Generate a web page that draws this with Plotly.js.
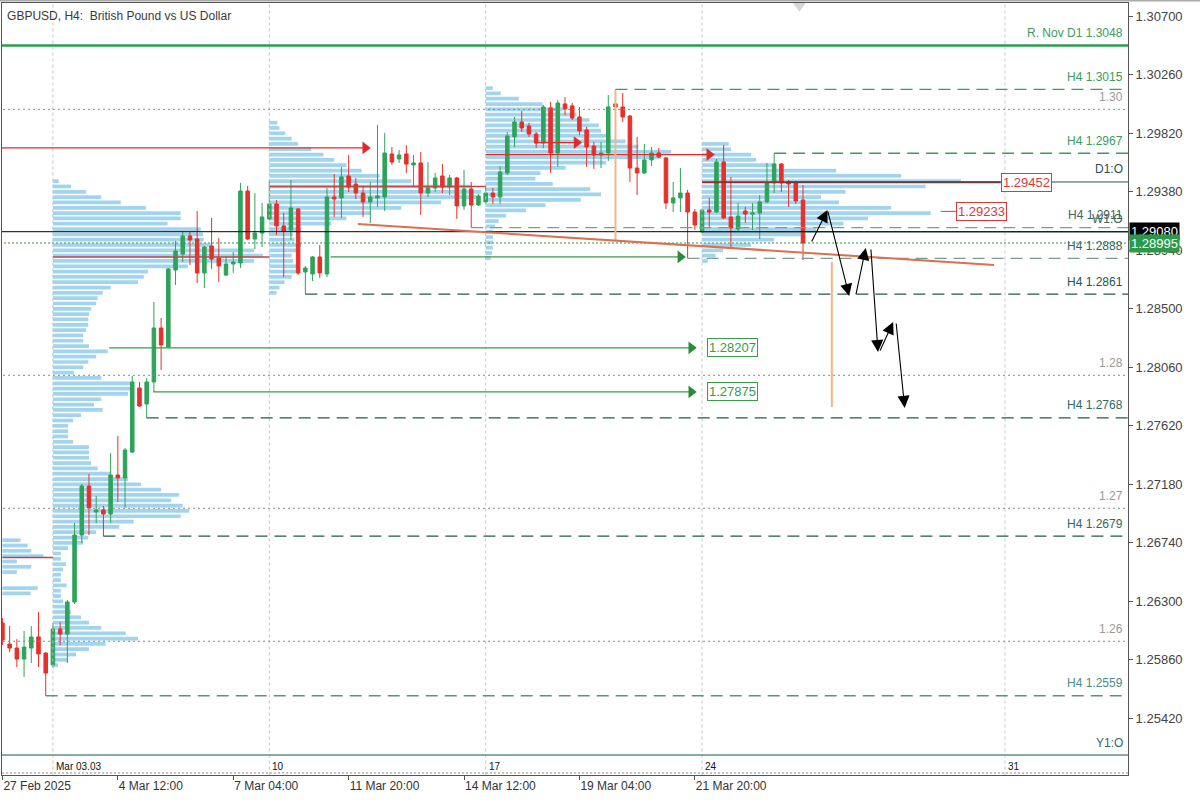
<!DOCTYPE html>
<html><head><meta charset="utf-8">
<script src="https://cdn.plot.ly/plotly-3.0.1.min.js"></script>
<style>html,body{margin:0;padding:0;background:#fff}#chart{width:1200px;height:800px}</style>
</head><body><div id="chart"></div>
<script>
// ---------- H4 candles, bar 0 = 27 Feb 2025 20:00 ----------
const open = [1.26137,1.25979,1.25949,1.25866,1.25949,1.26032,1.25911,1.25821,1.26092,1.26054,
1.26295,1.26799,1.27167,1.26972,1.26987,1.26957,1.27250,1.27228,1.27423,1.27905,
1.27784,1.27950,1.28356,1.28213,1.28792,1.28912,1.29048,1.29025,1.28770,1.28973,
1.28882,1.28754,1.28837,1.28845,1.29386,1.29025,1.29070,1.29176,1.29289,1.29123,
1.29093,1.29251,1.28777,1.28762,1.28890,1.28762,1.29341,1.29334,1.29499,1.29439,
1.29371,1.29304,1.29334,1.29341,1.29665,1.29627,1.29665,1.29582,1.29597,1.29371,
1.29409,1.29499,1.29416,1.29484,1.29274,1.29401,1.29281,1.29304,1.29371,1.29341,
1.29522,1.29793,1.29905,1.29875,1.29815,1.29747,1.30011,1.29672,1.30041,1.30026,
1.29943,1.29845,1.29725,1.29657,1.29672,1.30041,1.30018,1.29950,1.29559,1.29522,
1.29620,1.29672,1.29635,1.29296,1.29334,1.29371,1.29228,1.29078,1.29243,1.29228,
1.29604,1.29191,1.29100,1.29236,1.29213,1.29221,1.29304,1.29447,1.29589,1.29454,
1.29447,1.29319];
const high = [1.26174,1.26114,1.26016,1.26077,1.26114,1.26220,1.25919,1.26137,1.26144,1.26310,
1.26889,1.27182,1.27258,1.27092,1.27017,1.27416,1.27543,1.27453,1.27995,1.27950,
1.27980,1.28551,1.28431,1.28807,1.29010,1.29078,1.29078,1.29236,1.28973,1.29183,
1.29033,1.28890,1.28928,1.29447,1.29424,1.29371,1.29296,1.29462,1.29319,1.29221,
1.29469,1.29258,1.28822,1.28897,1.28980,1.29409,1.29514,1.29567,1.29657,1.29484,
1.29424,1.29454,1.29883,1.29823,1.29717,1.29695,1.29732,1.29657,1.29680,1.29604,
1.29522,1.29589,1.29507,1.29492,1.29544,1.29454,1.29364,1.29431,1.29409,1.29574,
1.29830,1.29943,1.29988,1.29898,1.29830,1.30033,1.30056,1.30071,1.30093,1.30048,
1.30018,1.29868,1.29755,1.29755,1.30108,1.30150,1.30123,1.29958,1.29793,1.29740,
1.29717,1.29710,1.29642,1.29454,1.29559,1.29394,1.29251,1.29251,1.29334,1.29627,
1.29732,1.29492,1.29296,1.29266,1.29296,1.29356,1.29597,1.29670,1.29597,1.29469,
1.29462,1.29431];
const low = [1.25971,1.25919,1.25806,1.25731,1.25836,1.25806,1.25590,1.25798,1.25971,1.25836,
1.26280,1.26739,1.26799,1.26889,1.26790,1.26889,1.27047,1.27002,1.27416,1.27762,
1.27680,1.27874,1.28040,1.28205,1.28679,1.28852,1.28830,1.28694,1.28657,1.28800,
1.28702,1.28747,1.28770,1.28807,1.29018,1.28950,1.28965,1.29168,1.29055,1.28739,
1.29018,1.28754,1.28610,1.28709,1.28732,1.28739,1.29191,1.29183,1.29379,1.29326,
1.29191,1.29146,1.29266,1.29236,1.29582,1.29597,1.29522,1.29416,1.29206,1.29341,
1.29379,1.29371,1.29356,1.29176,1.29243,1.29110,1.29274,1.29289,1.29289,1.29289,
1.29507,1.29717,1.29830,1.29793,1.29710,1.29710,1.29522,1.29567,1.29958,1.29920,
1.29808,1.29567,1.29552,1.29559,1.29612,1.29981,1.29905,1.29454,1.29356,1.29514,
1.29574,1.29635,1.29251,1.29228,1.29228,1.28880,1.29093,1.29070,1.29108,1.29221,
1.29176,1.28958,1.29078,1.29146,1.29093,1.29025,1.29296,1.29371,1.29379,1.29266,
1.29289,1.28867];
const close = [1.26009,1.25949,1.25866,1.25956,1.26032,1.25904,1.25761,1.26092,1.26054,1.26295,
1.26799,1.27167,1.27002,1.26987,1.26957,1.27250,1.27228,1.27438,1.27950,1.27769,
1.27950,1.28356,1.28228,1.28800,1.28935,1.29048,1.29018,1.28770,1.28965,1.28875,
1.28822,1.28837,1.28852,1.29386,1.29025,1.29070,1.29191,1.29289,1.29123,1.29085,
1.29258,1.28770,1.28807,1.28890,1.28770,1.29341,1.29326,1.29492,1.29416,1.29371,
1.29304,1.29341,1.29349,1.29672,1.29604,1.29657,1.29589,1.29597,1.29371,1.29409,
1.29484,1.29416,1.29484,1.29274,1.29401,1.29281,1.29349,1.29371,1.29341,1.29529,
1.29800,1.29905,1.29860,1.29815,1.29747,1.30018,1.29672,1.30048,1.30003,1.29935,
1.29838,1.29717,1.29657,1.29672,1.30018,1.30018,1.29943,1.29559,1.29522,1.29620,
1.29672,1.29642,1.29296,1.29334,1.29371,1.29228,1.29131,1.29243,1.29228,1.29604,
1.29183,1.29108,1.29198,1.29213,1.29221,1.29304,1.29447,1.29589,1.29447,1.29439,
1.29311,1.28995];

// ---------- axes ----------
const timeTickBars = [0,16,32,48,64,80,96];
const timeTickText = ["27 Feb 2025","4 Mar 12:00","7 Mar 04:00","11 Mar 20:00","14 Mar 12:00","19 Mar 04:00","21 Mar 20:00"];
const priceTicks = [1.30700,1.30260,1.29820,1.29380,1.28940,1.28500,1.28060,1.27620,1.27180,1.26740,1.26300,1.25860,1.25420];
const separatorBars = [7,37,67,97,139];
const separatorText = ["Mar 03.03","10","17","24","31"];

// ---------- weekly volume profiles ----------
const profileStart = [0,7,37,67,97];
const profileTop = [1.2676,1.2946,1.2990,1.3016,1.2974];
const profileBin = 0.0004;
const profile0 = [2.5,3.5,4.0,5.7,2.0,4.0,2.0,0,0,4.9,3.9];
const profile1 = [0.8,2.5,4.6,6.7,9.4,12.9,17.7,17.7,15.9,20.5,
20.8,20.9,21.9,27.9,29.1,27.9,18.7,13.2,12.6,11.8,
8.0,6.9,6.2,6.0,5.3,5.0,4.9,4.9,4.6,4.2,
4.2,5.0,7.6,6.0,4.9,4.2,2.9,6.7,10.8,11.1,
10.4,6.7,5.7,6.9,3.9,2.8,2.1,2.1,2.1,2.8,
5.0,5.0,5.0,5.3,6.2,8.0,10.4,12.2,15.0,17.5,
16.4,18.0,18.9,17.7,11.2,9.2,6.0,4.9,4.2,2.1,
1.1,1.1,1.8,1.4,1.1,1.1,1.9,1.1,1.1,1.4,
2.1,2.5,3.9,5.0,6.7,10.1,11.8,7.3,5.0,3.2,
2.1,0.7];
const profile2 = [1.1,1.4,2.2,3.1,4.0,5.8,7.5,9.0,10.7,12.8,15.3,19.7,28.0,29.4,28.7,23.8,18.3,14.1,10.7,8.6,4.4,3.3,3.5,4.4,3.9,3.1,3.3,3.9,4.2,3.1,2.1,1.4,1.0];
const profile3 = [1.0,2.1,4.6,7.9,10.7,12.6,14.4,15.7,16.0,16.7,19.4,21.2,25.7,24.3,16.7,11.1,7.6,6.9,9.3,14.5,16.0,13.2,8.3,5.6,2.8,1.8,1.3,1.0,1.0,1.0,1.0,0.9,0.7];
const profile4 = [3.7,4.0,6.8,7.5,10.2,18.6,27.6,35.9,31.0,19.9,16.5,19.0,26.2,31.7,23.0,19.6,15.8,13.7,10.0,6.8,2.9,1.9,0.8];
const pocPrice = [1.2663,1.2889,1.2942];
const pocFrom = [0,7,37];
const pocTo = [7,37,67];

// ---------- levels ----------
const h4Text = ["H4 1.3015","H4 1.2967","H4 1.2911","H4 1.2888","H4 1.2861","H4 1.2768","H4 1.2679","H4 1.2559"];
const h4Price = [1.3015,1.2967,1.2911,1.2888,1.2861,1.2768,1.2679,1.2559];
const h4FromBar = [85,107,65,95,42,20,14,6];
const roundText = ["1.30","1.28","1.27","1.26"];
const roundPrice = [1.30,1.28,1.27,1.26];
const resistNovPrice = 1.3048, resistNovText = "R. Nov D1 1.3048";
const d1Open = 1.29454, d1OpenBar = 109;
const w1Open = 1.29078, w1OpenBar = 97;
const y1Open = 1.25144;
const bidPrice = 1.29080, askPrice = 1.28995;

// ---------- drawn objects ----------
const redArrowFrom = [-1,73.7,67.0], redArrowTo = [51.2,80.5,98.9], redArrowPrice = [1.2971,1.2975,1.2966];
const greenArrowFrom = [45.5,14.8,20.9], greenArrowTo = [94.9,96.4,96.4], greenArrowPrice = [1.2889,1.28207,1.27875];
const boxText = ["1.29452","1.29233","1.28207","1.27875"];
const boxBar = [138.4,132.2,97.7,97.7];
const boxPrice = [1.29452,1.29233,1.28207,1.27875];
const poc4Price = 1.29452, poc4From = 97, poc4To = 138.4;
const poc4bPrice = 1.29233, poc4bFrom = 130.1, poc4bTo = 132.2;
const orangeBar = [85,115], orangeTop = [1.30150,1.28852], orangeBottom = [1.29018,1.27762];
const trendBar = [49.3,137.5], trendPrice = [1.29138,1.28830];
const projFromBar = [112.1,114.4,118.3,120.4,121.6,123.9];
const projFromPrice = [1.28995,1.29243,1.28597,1.28958,1.28175,1.28401];
const projToBar = [114.4,117.4,119.7,121.4,123.5,125.1];
const projToPrice = [1.29243,1.28597,1.28958,1.28175,1.28401,1.27754];

// ================= build =================
const XL = -2, XR = 160, YB = 1.2490, YT = 1.3090;
const bars = open.map((_, i) => i);
const traces = [];
const profLens = [profile0,profile1,profile2,profile3,profile4];
profLens.forEach((len, p) => {
  const levels = len.map((_, k) => +(profileTop[p] - k*profileBin).toFixed(4));
  traces.push({type:'bar', orientation:'h', y:levels, x:len, base:profileStart[p], width:0.00028,
    marker:{color:'#a2d4ed', line:{width:0}}, hoverinfo:'skip', showlegend:false});
});
traces.push({type:'candlestick', x:bars, open:open, high:high, low:low, close:close,
  increasing:{line:{color:'#2ea35a', width:1}, fillcolor:'#2ea35a'},
  decreasing:{line:{color:'#e6302a', width:1}, fillcolor:'#e6302a'},
  whiskerwidth:0, hoverinfo:'skip', showlegend:false});

function seg(list){ const x=[], y=[]; list.forEach(s=>{x.push(s[0],s[1],null); y.push(s[2],s[3],null);}); return {x,y}; }
function lines(list, color, width, dash){ const s=seg(list); return {type:'scatter', mode:'lines', x:s.x, y:s.y, line:{color, width, dash:dash||'solid'}, hoverinfo:'skip', showlegend:false}; }

// separators
traces.push(lines(separatorBars.map(b=>[b,b,YB,YT]), '#c4c4c4', 1, '3px,3px'));
// round numbers
traces.push(lines(roundPrice.map(p=>[XL,XR,p,p]), '#8a8a8a', 1, '2px,3px'));
// H4 dashed levels
const h4Color = ['#3e9a5e','#3e9a5e','#7d9a95','#7d9a95','#1f5a52','#1f5a52','#1f5a52','#5a918a'];
h4Price.forEach((p,i)=>traces.push(lines([[h4FromBar[i],XR,p,p]], h4Color[i], 1.3, '12px,7px')));
// key solid lines
traces.push(lines([[XL,XR,resistNovPrice,resistNovPrice]], '#2e9b52', 2.5));
traces.push(lines([[XL,XR,y1Open,y1Open]], '#5f8f89', 1.5));
traces.push(lines([[w1OpenBar,XR,w1Open,w1Open]], '#3f6f6a', 1));
traces.push(lines([[XL,XR,askPrice,askPrice]], '#2e9b4a', 1, '2px,2px'));
traces.push(lines([[XL,XR,bidPrice,bidPrice]], '#000000', 1));
// POC lines
traces.push(lines(pocPrice.map((p,i)=>[pocFrom[i],pocTo[i],p,p]), '#c04646', 1.5));
traces.push(lines([[poc4From,poc4To,poc4Price,poc4Price]], '#9a2a2a', 2));
traces.push(lines([[poc4bFrom,poc4bTo,poc4bPrice,poc4bPrice]], '#d04040', 1));
traces.push(lines([[d1OpenBar,XR,d1Open,d1Open]], '#2f4f4f', 1));
// arrowed lines
traces.push(lines(redArrowPrice.map((p,i)=>[redArrowFrom[i],redArrowTo[i]-0.6,p,p]), '#e02a2a', 1.3));
traces.push({type:'scatter', mode:'markers', x:redArrowTo.map(v=>v-0.9), y:redArrowPrice, marker:{symbol:'triangle-right', size:11, color:'#e02a2a'}, hoverinfo:'skip', showlegend:false});
traces.push(lines(greenArrowPrice.map((p,i)=>[greenArrowFrom[i],greenArrowTo[i]-0.6,p,p]), '#3a9a4a', 1.3));
traces.push({type:'scatter', mode:'markers', x:greenArrowTo.map(v=>v-0.9), y:greenArrowPrice, marker:{symbol:'triangle-right', size:11, color:'#2a8a3a'}, hoverinfo:'skip', showlegend:false});
// orange verticals & trendline
traces.push(lines(orangeBar.map((b,i)=>[b,b,orangeTop[i],orangeBottom[i]]), '#f2b68a', 2));
traces.push(lines([[trendBar[0],trendBar[1],trendPrice[0],trendPrice[1]]], '#d9704f', 2));

// ---------- annotations ----------
const ann = [];
const lblText = [resistNovText, h4Text[0], roundText[0], h4Text[1], "D1:O", h4Text[2], "W1:O", h4Text[3], h4Text[4], roundText[1], h4Text[5], roundText[2], h4Text[6], roundText[3], h4Text[7], "Y1:O"];
const lblPrice = [resistNovPrice, h4Price[0], roundPrice[0], h4Price[1], d1Open, h4Price[2], w1Open, h4Price[3], h4Price[4], roundPrice[1], h4Price[5], roundPrice[2], h4Price[6], roundPrice[3], h4Price[7], y1Open];
const lblColor = ['#3e9a5e','#3e9a5e','#9a9a9a','#3e9a5e','#2f4f4f','#3a6661','#3a6661','#3a6661','#24564f','#9a9a9a','#2f6a62','#9a9a9a','#2f6a62','#9a9a9a','#4f8a83','#2f6a62'];
lblText.forEach((t,i)=>ann.push({xref:'paper', yref:'y', x:1, y:lblPrice[i], text:t, showarrow:false, xanchor:'right', yanchor:'middle', xshift:-3, yshift:12.5, font:{size:12, color:lblColor[i]}}));
const boxColor = ['#d23c3c','#d23c3c','#3a9a4a','#3a9a4a'];
boxText.forEach((t,i)=>ann.push({xref:'x', yref:'y', x:boxBar[i], y:boxPrice[i], text:t, showarrow:false, xanchor:'left', yanchor:'middle', font:{size:13, color:boxColor[i]}, bordercolor:boxColor[i], borderwidth:1, borderpad:1, bgcolor:'#ffffff'}));
ann.push({xref:'paper', yref:'y', x:1, y:bidPrice, text:bidPrice.toFixed(5), showarrow:false, xanchor:'left', yanchor:'middle', xshift:1, font:{size:13, color:'#ffffff'}, bgcolor:'#000000', borderpad:1});
ann.push({xref:'paper', yref:'y', x:1, y:askPrice, text:askPrice.toFixed(5), showarrow:false, xanchor:'left', yanchor:'middle', xshift:1, font:{size:13, color:'#ffffff'}, bgcolor:'#2a9a4a', borderpad:1});
separatorText.forEach((t,i)=>ann.push({xref:'x', yref:'paper', x:separatorBars[i], y:0.0104, text:t, showarrow:false, xanchor:'left', yanchor:'middle', xshift:1, font:{size:10, color:'#111'}}));
projFromBar.forEach((b,i)=>ann.push({xref:'x', yref:'y', axref:'x', ayref:'y', x:projToBar[i], y:projToPrice[i], ax:b, ay:projFromPrice[i], text:'', showarrow:true, arrowhead:2, arrowsize:2.2, arrowwidth:1.1, arrowcolor:'#000000', standoff:0, startstandoff:0}));

const layout = {
  width:1200, height:800, margin:{l:2, r:72, t:3, b:25},
  paper_bgcolor:'#ffffff', plot_bgcolor:'#ffffff', showlegend:false, hovermode:false, barmode:'overlay',
  font:{family:'Liberation Sans, Arial, sans-serif', color:'#333'},
  title:{text:'GBPUSD, H4:\u00a0 British Pound vs US Dollar', x:0.0045, xref:'paper', xanchor:'left', y:0.983, yref:'paper', yanchor:'middle', font:{size:12, color:'#3a3a3a'}},
  xaxis:{range:[-0.06,156.06], tickvals:timeTickBars, ticktext:timeTickText, ticks:'outside', ticklen:4, tickcolor:'#555',
    ticklabelposition:'outside right', tickfont:{size:12, color:'#333'}, showline:true, linecolor:'#555', mirror:true,
    showgrid:false, zeroline:false, fixedrange:true, rangeslider:{visible:false}},
  yaxis:{range:[1.24994,1.30800], side:'right', tickvals:priceTicks, ticktext:priceTicks.map(v=>v.toFixed(5)), ticks:'outside', ticklen:4, tickcolor:'#555',
    tickfont:{size:13, color:'#444'}, showline:true, linecolor:'#555', mirror:true, showgrid:false, zeroline:false, fixedrange:true},
  annotations:ann,
  shapes:[
    {type:'line', xref:'paper', yref:'paper', x0:-0.01, x1:1.07, y0:1.0032, y1:1.0032, line:{color:'#aaaaaa', width:2}},
    {type:'line', xref:'paper', yref:'paper', x0:0, x1:1, y0:0.0026, y1:0.0026, line:{color:'#888888', width:1, dash:'2px,2px'}},
    {type:'path', xref:'x', yref:'y', path:'M 109.6 1.3080 L 111.4 1.3080 L 110.5 1.30735 Z', fillcolor:'#d6d6d6', line:{width:0}}
  ]
};
Plotly.newPlot('chart', traces, layout, {displayModeBar:false, staticPlot:true});
</script></body></html>
